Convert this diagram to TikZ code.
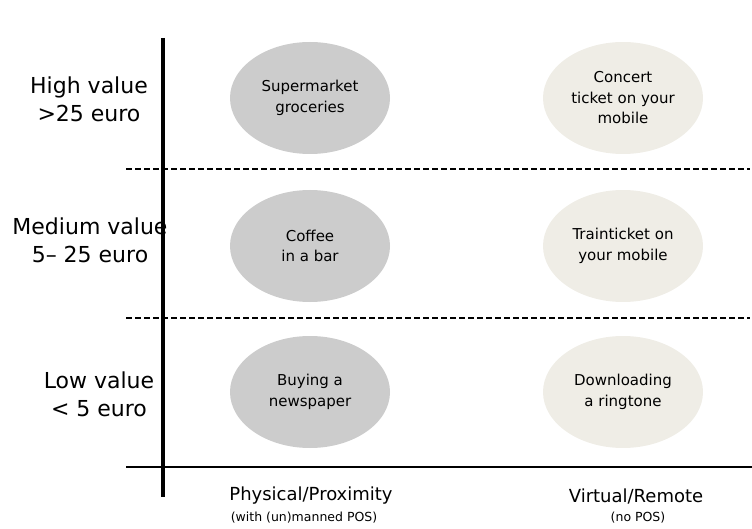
\documentclass[tikz,border=0pt]{standalone}
\usepackage{fontspec}
\setmainfont{DejaVu Sans}
\usetikzlibrary{shapes.geometric}
\definecolor{physgray}{RGB}{204,204,204}
\definecolor{virtbeige}{RGB}{239,237,230}

\begin{document}
\begin{tikzpicture}[x=1pt, y=-1pt,
  oval/.style={ellipse, minimum width=160pt, minimum height=112pt, inner sep=0pt, align=center, font=\fontsize{15}{20.5}\selectfont},
  phys/.style={oval, fill=physgray},
  virt/.style={oval, fill=virtbeige},
  rowlbl/.style={align=center, font=\fontsize{22}{28}\selectfont},
  collbl/.style={font=\fontsize{18}{22}\selectfont},
  sublbl/.style={font=\fontsize{12.5}{15}\selectfont},
  sep/.style={dash pattern=on 6pt off 3pt, line width=1.2pt},
]
  \useasboundingbox (0,0) rectangle (752,529);

  \coordinate (axtop) at (163,38);
  \coordinate (axbot) at (163,497);
  \coordinate (baseL) at (126,467);
  \coordinate (baseR) at (752,467);
  \coordinate (hiL) at (126,169);
  \coordinate (hiR) at (750,169);
  \coordinate (loL) at (126,318);
  \coordinate (loR) at (750,318);

  \node[phys] (market) at (310,98) {Supermarket\\groceries};
  \node[virt] (concert) at (623,98) {Concert\\ticket on your\\mobile};
  \node[phys] (coffee) at (310,246) {Coffee\\in a bar};
  \node[virt] (train) at (623,246) {Trainticket on\\your mobile};
  \node[phys] (paper) at (310,392) {Buying a\\newspaper};
  \node[virt] (ring) at (623,392) {Downloading\\a ringtone};

  \node[rowlbl] (high) at (89,99) {High value\\>25 euro};
  \node[rowlbl] (medium) at (90,240) {Medium value\\5– 25 euro};
  \node[rowlbl] (low) at (99,394) {Low value\\< 5 euro};

  \node[collbl] (physical) at (311,496) {Physical/Proximity};
  \node[sublbl] (manned) at (304,518) {(with (un)manned POS)};
  \node[collbl] (virtual) at (636,496) {Virtual/Remote};
  \node[sublbl] (nopos) at (638,518) {(no POS)};

  \draw[sep] (hiL) -- (hiR);
  \draw[sep, line width=1.8pt] (loL) -- (loR);
  \draw[line width=2pt] (baseL) -- (baseR);
  \draw[line width=3.5pt] (axtop) -- (axbot);
\end{tikzpicture}
\end{document}
